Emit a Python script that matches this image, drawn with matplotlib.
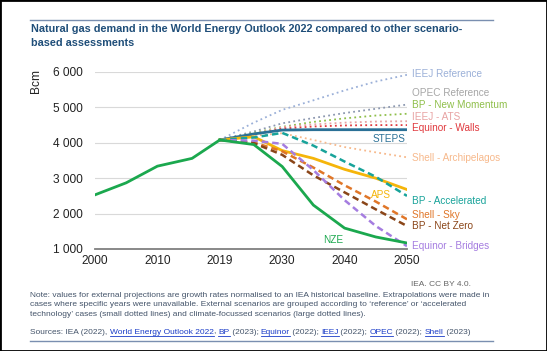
import numpy as np
import matplotlib.pyplot as plt
from matplotlib.lines import Line2D
from matplotlib.patches import Rectangle

plt.rcParams['font.family'] = ['Liberation Sans', 'DejaVu Sans']

# axis categories (evenly spaced on the chart)
tick_years = [2000, 2010, 2019, 2030, 2040, 2050]

# historical demand (Bcm)
hist_years = [2000, 2005, 2010, 2015, 2019]
hist_vals = [2530, 2870, 3340, 3560, 4080]

# projections
proj_years = [2019, 2025, 2030, 2035, 2040, 2045, 2050]
steps = [4080, 4250, 4360, 4370, 4370, 4370, 4370]
aps = [4080, 4170, 3780, 3560, 3250, 3000, 2680]
nze = [4080, 3950, 3330, 2240, 1590, 1340, 1170]
ieej_ref = [4080, 4570, 4930, 5200, 5480, 5730, 5920]
opec_ref = [4080, 4320, 4550, 4700, 4840, 4960, 5080]
bp_newmom = [4080, 4280, 4450, 4590, 4690, 4770, 4820]
ieej_ats = [4080, 4250, 4440, 4520, 4570, 4600, 4610]
eq_walls = [4080, 4230, 4400, 4460, 4490, 4500, 4500]
shell_arch = [4080, 4200, 4270, 4080, 3880, 3730, 3590]
bp_accel = [4080, 4150, 4280, 3920, 3470, 3040, 2500]
shell_sky = [4080, 4010, 3760, 3300, 2800, 2340, 1840]
bp_netzero = [4080, 3990, 3660, 3080, 2600, 2120, 1650]
eq_bridges = [4080, 4060, 3970, 3230, 2380, 1650, 1080]


def xpos(years):
    return np.interp(years, tick_years, np.arange(len(tick_years)))


fig = plt.figure(figsize=(5.47, 3.51), dpi=100)
ax = fig.add_axes([0.1737, 0.2906, 0.5703, 0.5043])

xp = xpos(proj_years)
dot = (0, (1, 1.8))
dash = (0, (2.6, 1.6))

# reference / accelerated technology cases (small dots)
ax.plot(xp, ieej_ref, color='#9bb0d8', lw=1.3, ls=dot)
ax.plot(xp, opec_ref, color='#8c98b0', lw=1.3, ls=dot)
ax.plot(xp, bp_newmom, color='#8fbf4a', lw=1.3, ls=dot)
ax.plot(xp, ieej_ats, color='#e8a3a3', lw=1.3, ls=dot)
ax.plot(xp, eq_walls, color='#e0393e', lw=1.3, ls=dot)
ax.plot(xp, shell_arch, color='#f7b98c', lw=1.3, ls=dot)

# WEO scenarios
ax.plot(xp, steps, color='#2a7096', lw=2)
ax.plot(xp, aps, color='#f5b50a', lw=2)

# climate-focussed (large dashes)
ax.plot(xp, bp_accel, color='#18a39a', lw=1.8, ls=dash)
ax.plot(xp, shell_sky, color='#e07628', lw=1.8, ls=dash)
ax.plot(xp, bp_netzero, color='#8a4518', lw=1.8, ls=dash)
ax.plot(xp, eq_bridges, color='#a57de0', lw=1.8, ls=dash)

ax.plot(xp, nze, color='#1ba84e', lw=2)
ax.plot(xpos(hist_years), hist_vals, color='#1ba84e', lw=2)

ax.set_xlim(0, 5)
ax.set_ylim(1000, 6000)
ax.set_xticks(range(6))
ax.set_xticklabels([str(y) for y in tick_years])
ax.set_yticks([1000, 2000, 3000, 4000, 5000, 6000])
ax.set_yticklabels(['1 000', '2 000', '3 000', '4 000', '5 000', '6 000'])
ax.tick_params(length=0, labelsize=8.6, colors='#222222')
ax.tick_params(axis='y', pad=9)
ax.tick_params(axis='x', pad=4)
ax.grid(axis='y', color='#d9d9d9', lw=0.8)
ax.set_axisbelow(True)
for s in ['top', 'right', 'left']:
    ax.spines[s].set_visible(False)
ax.spines['bottom'].set_color('#7f7f7f')
ax.spines['bottom'].set_linewidth(1.3)
ax.set_ylabel('Bcm', fontsize=8.6, color='#222222')
ax.yaxis.set_label_coords(-0.17, 0.95)

# series labels
lab = dict(fontsize=7.2, va='center', ha='left', clip_on=False)
ax.text(5.08, 5944, 'IEEJ Reference', color='#9bb0d8', **lab)
ax.text(5.08, 5407, 'OPEC Reference', color='#a6a6a6', **lab)
ax.text(5.08, 5068, 'BP - New Momentum', color='#8fbf4a', **lab)
ax.text(5.08, 4729, 'IEEJ - ATS', color='#e8a3a3', **lab)
ax.text(5.08, 4418, 'Equinor - Walls', color='#e0393e', **lab)
ax.text(4.97, 4107, 'STEPS', color='#2a7096', fontsize=7.2, va='center', ha='right')
ax.text(5.08, 3571, 'Shell - Archipelagos', color='#f7b98c', **lab)
ax.text(4.58, 2525, 'APS', color='#f5b50a', fontsize=7.2, va='center', ha='center')
ax.text(5.08, 2356, 'BP - Accelerated', color='#18a39a', **lab)
ax.text(5.08, 1960, 'Shell - Sky', color='#e07628', **lab)
ax.text(5.08, 1650, 'BP - Net Zero', color='#8a4518', **lab)
ax.text(3.82, 1254, 'NZE', color='#1ba84e', fontsize=7.2, va='center', ha='center')
ax.text(5.08, 1085, 'Equinor - Bridges', color='#a57de0', **lab)

# title and frame lines
fig.text(0.057, 1 - 24 / 351,
         'Natural gas demand in the World Energy Outlook 2022 compared to other scenario-\nbased assessments',
         fontsize=7.8, fontweight='bold', color='#1f4e79', va='top', ha='left', linespacing=1.5)
fig.add_artist(Line2D([30 / 547, 493 / 547], [1 - 20 / 351, 1 - 20 / 351], color='#7a8fb0', lw=1))
fig.add_artist(Line2D([30 / 547, 493 / 547], [1 - 341 / 351, 1 - 341 / 351], color='#7a8fb0', lw=1))
fig.add_artist(Rectangle((0, 0), 1, 1, transform=fig.transFigure, fill=False, ec='black', lw=2))

fig.text(471 / 547, 1 - 284 / 351, 'IEA. CC BY 4.0.', fontsize=6, color='#666666', ha='right', va='center')

note_col = '#44546a'
note = ("Note: values for external projections are growth rates normalised to an IEA historical baseline. "
        "Extrapolations were made in\ncases where specific years were unavailable. External scenarios are grouped "
        "according to \u2018reference\u2019 or \u2018accelerated\ntechnology\u2019 cases (small dotted lines) and "
        "climate-focussed scenarios (large dotted lines).")
fig.text(30 / 547, 1 - 292 / 351, note, fontsize=6.05, color=note_col, va='top', ha='left',
         linespacing=1.45)

# sources line with underlined links
pieces = [('Sources: IEA (2022), ', False), ('World Energy Outlook 2022', True), (', ', False),
          ('BP', True), (' (2023); ', False), ('Equinor', True), (' (2022); ', False),
          ('IEEJ', True), (' (2022); ', False), ('OPEC', True), (' (2022); ', False),
          ('Shell', True), (' (2023)', False)]
renderer = fig.canvas.get_renderer()
x0 = 30
ys = 351 - 332
for txt, link in pieces:
    t = fig.text(x0 / 547, ys / 351, txt, fontsize=6.05, color='#1a3cc8' if link else note_col,
                 va='center', ha='left')
    bb = t.get_window_extent(renderer)
    if link:
        fig.add_artist(Line2D([bb.x0 / 547, bb.x1 / 547], [(ys - 4) / 351, (ys - 4) / 351],
                              color='#1a3cc8', lw=0.6))
    x0 = bb.x1

fig.savefig('out.png', dpi=100)
